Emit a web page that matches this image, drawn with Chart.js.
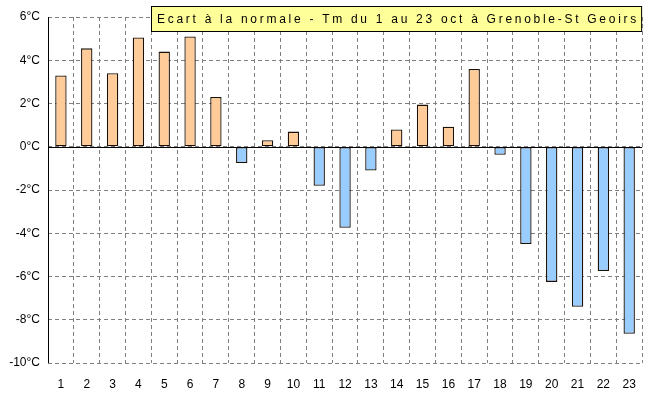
<!DOCTYPE html>
<html>
<head>
<meta charset="utf-8">
<script src="https://cdn.jsdelivr.net/npm/chart.js@4"></script>
<style>
  html, body { margin: 0; padding: 0; background: #fff; }
  #wrap { width: 650px; height: 402px; }
</style>
</head>
<body>
<div id="wrap"><canvas id="graficoEcart"></canvas></div>
<script>
// jours d'octobre
const jours = ['1','2','3','4','5','6','7','8','9','10','11','12','13','14','15','16','17','18','19','20','21','22','23'];
// ecart a la normale (°C)
const ecarts = [3.3, 4.55, 3.4, 5.05, 4.4, 5.1, 2.3, -0.75, 0.3, 0.7, -1.8, -3.75, -1.1, 0.8, 1.95, 0.93, 3.6, -0.37, -4.5, -6.25, -7.4, -5.75, -8.65];
const titre = 'Ecart à la normale - Tm du 1 au 23 oct à Grenoble-St Geoirs';

// axe + ligne zero en trait plein, cadre du titre
const decor = {
  id: 'decor',
  afterDatasetsDraw(chart) {
    const ctx = chart.ctx, a = chart.chartArea, y = chart.scales.y;
    ctx.save();
    ctx.strokeStyle = '#000';
    ctx.lineWidth = 1;
    ctx.setLineDash([]);
    ctx.beginPath();
    ctx.moveTo(a.left + 0.5, a.top);
    ctx.lineTo(a.left + 0.5, a.bottom);
    const y0 = Math.round(y.getPixelForValue(0)) + 0.5;
    ctx.moveTo(a.left, y0);
    ctx.lineTo(a.right, y0);
    ctx.stroke();

    // titre
    const bx = 151, by = 6, bw = a.right - 151, bh = 26;
    ctx.fillStyle = '#FFFF99';
    ctx.fillRect(bx, by, bw, bh);
    ctx.strokeRect(bx + 0.5, by + 0.5, bw - 1, bh - 1);
    ctx.font = '12px "Liberation Sans", Arial, sans-serif';
    ctx.letterSpacing = '0px';
    const w = ctx.measureText(titre).width;
    const sp = (bw - 12 - w) / (titre.length - 1);
    ctx.letterSpacing = sp.toFixed(2) + 'px';
    ctx.fillStyle = '#000';
    ctx.textBaseline = 'middle';
    ctx.textAlign = 'left';
    ctx.fillText(titre, bx + 6, by + bh / 2 + 1);
    ctx.restore();
  }
};

const ctx = document.getElementById('graficoEcart');
new Chart(ctx, {
  type: 'bar',
  data: {
    labels: jours,
    datasets: [{
      data: ecarts,
      backgroundColor: ecarts.map(v => v >= 0 ? '#FFCC99' : '#99CCFF'),
      borderColor: '#1a1008',
      borderWidth: 1.3,
      borderSkipped: false,
      barPercentage: 0.44,
      categoryPercentage: 1
    }]
  },
  options: {
    responsive: true,
    maintainAspectRatio: false,
    animation: false,
    layout: { padding: { top: 17, right: 6, left: 0, bottom: 0 } },
    plugins: { legend: { display: false }, title: { display: false }, tooltip: { enabled: false } },
    scales: {
      x: {
        grid: { color: '#808080', drawTicks: false, offset: true },
        border: { display: false, dash: [4, 3] },
        ticks: { color: '#000', padding: 14, font: { family: 'Liberation Sans', size: 12 }, maxRotation: 0, autoSkip: false },
        afterFit: s => { s.height = 39; }
      },
      y: {
        min: -10,
        max: 6,
        grid: { color: '#808080', drawTicks: false },
        border: { display: false, dash: [4, 3] },
        ticks: {
          stepSize: 2,
          color: '#000',
          padding: 8,
          font: { family: 'Liberation Sans', size: 12 },
          callback: v => v + '°C'
        },
        afterFit: s => { s.width = 48; }
      }
    }
  },
  plugins: [decor]
});
</script>
</body>
</html>
